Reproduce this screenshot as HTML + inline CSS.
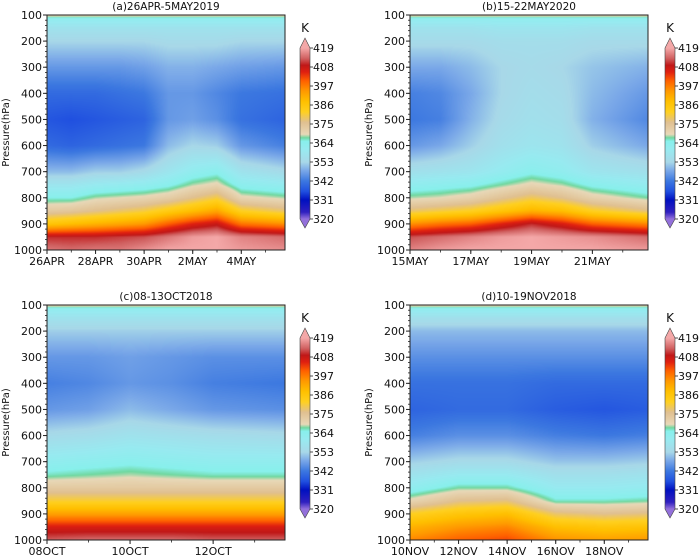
<!DOCTYPE html>
<html><head><meta charset="utf-8">
<style>
html,body{margin:0;padding:0;background:#fff;}
#wrap{position:relative;width:700px;height:557px;overflow:hidden;font-family:"DejaVu Sans","Liberation Sans",sans-serif;}
canvas{position:absolute;}
svg{position:absolute;left:0;top:0;font-family:"DejaVu Sans","Liberation Sans",sans-serif;}
</style></head>
<body>
<div id="wrap">
<canvas id="ca" width="238" height="235" style="left:47px;top:15px"></canvas>
<canvas id="cb" width="238" height="235" style="left:410px;top:15px"></canvas>
<canvas id="cc" width="238" height="235" style="left:47px;top:305px"></canvas>
<canvas id="cd" width="238" height="235" style="left:410px;top:305px"></canvas>
<svg id="svg" width="700" height="557"></svg>
</div>
<script>
// pressure levels (hPa)
const levels = [100,115,150,200,300,400,500,600,700,750,800,850,900,950,1000];
const daysA = [0,1,2,3,4,5,6,7,8,9.8];
const thetaA = [
[372,362,357,353,346,340,337,340,350,358,365,373,386,410,415],
[372,362,357,353,346,340,336,339,350,358,365,374,388,410,414],
[372,362,357,353,346,340,337,340,352,360,368,376,390,410,415],
[372,362,357,353,346,341,338,341,352,361,369,378,392,411,415],
[372,362,357,353,347,342,339,342,354,362,370,380,394,412,417],
[372,362,357,354,349,346,346,350,358,364,372,384,400,415,419],
[372,362,357,354,349,346,347,353,362,368,376,388,405,418,419],
[372,362,357,354,348,344,345,352,364,370,380,392,408,419,419],
[372,362,357,353,347,342,341,346,357,363,370,382,398,416,418],
[372,362,357,353,346,341,339,343,354,361,368,378,395,414,417]];
const daysB = [0,1,2,3,4,5,6,7.83];
const thetaB = [
[372,362,357,354,348,343,342,346,356,362,368,378,395,412,416],
[372,362,357,354,348,344,343,348,357,363,369,380,398,414,418],
[372,362,357,354,350,348,349,352,358,364,371,382,400,416,419],
[372,362,358,355,353,353,354,356,361,367,375,386,405,418,419],
[372,362,358,355,354,355,356,358,364,370,379,390,410,419,419],
[372,362,358,355,353,354,355,357,362,368,376,388,406,418,419],
[372,362,357,354,351,350,349,352,358,364,371,382,400,417,419],
[372,362,357,354,349,346,344,348,356,361,367,377,396,414,418]];
const daysC = [0,1,2,3,4,5.73];
const thetaC = [
[372,362,357,352,346,343,346,354,362,366,373,381,393,406,413],
[372,362,357,352,346,344,347,355,363,367,373,381,393,406,414],
[372,362,357,352,347,346,350,357,364,368,373,381,393,406,414],
[372,362,357,352,346,345,348,356,363,367,373,381,393,406,414],
[372,362,357,352,345,343,346,355,362,366,373,381,393,406,413],
[372,362,357,352,345,342,345,354,362,366,373,381,393,406,413]];
const daysD = [0,2,4,6,8,9.8];
const thetaD = [
[372,362,356,350,345,341,339,343,352,357,362,370,382,390,396],
[372,362,356,350,345,341,340,345,354,360,367,376,386,394,400],
[372,362,356,350,345,341,340,345,354,360,367,377,388,396,402],
[372,362,356,350,345,340,338,343,351,356,360,366,378,388,395],
[372,362,356,350,345,340,337,342,351,356,360,366,376,386,393],
[372,362,356,350,345,340,338,343,352,357,361,367,377,387,394]];
const cbTicks = [320,331,342,353,364,375,386,397,408,419];
const yTicks = [100,200,300,400,500,600,700,800,900,1000];
const xLabA = ["26APR","28APR","30APR","2MAY","4MAY"], xDayA=[0,2,4,6,8];
const xLabB = ["15MAY","17MAY","19MAY","21MAY"], xDayB=[0,2,4,6];
const xLabC = ["08OCT","10OCT","12OCT"], xDayC=[0,2,4];
const xLabD = ["10NOV","12NOV","14NOV","16NOV","18NOV"], xDayD=[0,2,4,6,8];

const stops=[[320,"#9370db"],[324,"#3020c0"],[331,"#0010c0"],[336,"#2050e0"],[342,"#3c78e0"],[348,"#7aa8e8"],[353,"#a8d8e8"],[360,"#98eaf0"],[365,"#88f0ec"],[367,"#70d8a0"],[369,"#e8d8b8"],[376,"#e0c090"],[382,"#ffd020"],[388,"#ffc000"],[394,"#ff9a00"],[400,"#ff6000"],[405,"#e02010"],[409,"#c01818"],[413,"#d06060"],[419,"#f4a8a8"]];
function hx(c){return [parseInt(c.slice(1,3),16),parseInt(c.slice(3,5),16),parseInt(c.slice(5,7),16)];}
const stopRGB=stops.map(s=>[s[0],hx(s[1])]);
function cmap(v){
  if(v<=stopRGB[0][0])return stopRGB[0][1];
  for(let i=1;i<stopRGB.length;i++){if(v<=stopRGB[i][0]){const a=stopRGB[i-1],b=stopRGB[i];const t=(v-a[0])/(b[0]-a[0]);return a[1].map((x,k)=>x+(b[1][k]-x)*t);}}
  return stopRGB[stopRGB.length-1][1];
}
function interp(xs,ys,x){if(x<=xs[0])return 0;for(let i=1;i<xs.length;i++){if(x<=xs[i])return i-1+(x-xs[i-1])/(xs[i]-xs[i-1]);}return xs.length-1;}
function field(id,days,theta,span){
  const cv=document.getElementById(id),ctx=cv.getContext('2d');const W=cv.width,H=cv.height;
  const img=ctx.createImageData(W,H);
  for(let y=0;y<H;y++){
    const p=100+900*(y+0.5)/H;const fi=interp(levels,null,p);const i0=Math.floor(fi),i1=Math.min(i0+1,levels.length-1),ti=fi-i0;
    for(let x=0;x<W;x++){
      const d=span*(x+0.5)/W;const fj=interp(days,null,d);const j0=Math.floor(fj),j1=Math.min(j0+1,days.length-1),tj=fj-j0;
      const v0=theta[j0][i0]*(1-ti)+theta[j0][i1]*ti, v1=theta[j1][i0]*(1-ti)+theta[j1][i1]*ti;
      const c=cmap(v0*(1-tj)+v1*tj);const k=(y*W+x)*4;
      img.data[k]=c[0];img.data[k+1]=c[1];img.data[k+2]=c[2];img.data[k+3]=255;
    }
  }
  ctx.putImageData(img,0,0);
}
field('ca',daysA,thetaA,9.8);field('cb',daysB,thetaB,7.83);field('cc',daysC,thetaC,5.73);field('cd',daysD,thetaD,9.8);

const svg=document.getElementById('svg');const NS="http://www.w3.org/2000/svg";
function el(t,a,txt){const e=document.createElementNS(NS,t);for(const k in a)e.setAttribute(k,a[k]);if(txt!==undefined)e.textContent=txt;svg.appendChild(e);return e;}
const defs=el('defs',{});
const g=document.createElementNS(NS,'linearGradient');g.setAttribute('id','cbg');g.setAttribute('x1','0');g.setAttribute('y1','1');g.setAttribute('x2','0');g.setAttribute('y2','0');
stops.forEach(s=>{const st=document.createElementNS(NS,'stop');st.setAttribute('offset',((s[0]-320)/99).toFixed(3));st.setAttribute('stop-color',s[1]);g.appendChild(st);});
defs.appendChild(g);

function panel(name,L,T,span,labs,ldays,title,cbx){
  const W=238,H=235;
  const sy=p=>T+(p-100)/900*H, sx=d=>L+d/span*W;
  let e=el('text',{x:L+W/2,y:T-5,'font-size':10.5,'text-anchor':'middle',fill:'#111'},title);
  
  e=el('rect',{x:L,y:T,width:W,height:H,fill:'none',stroke:'#222','stroke-width':1});
  
  for(let p=100;p<=1000;p+=20){el('line',{x1:L,x2:L-2,y1:sy(p),y2:sy(p),stroke:'#222','stroke-width':0.8});}
  yTicks.forEach(p=>{el('line',{x1:L,x2:L-4,y1:sy(p),y2:sy(p),stroke:'#222','stroke-width':1});
    e=el('text',{x:L-5,y:sy(p)+4,'font-size':11,'text-anchor':'end',fill:'#111'},String(p));
    });
  e=el('text',{x:0,y:0,'font-size':10,'text-anchor':'middle',fill:'#111',transform:`translate(${L-38},${T+H/2}) rotate(-90)`},'Pressure(hPa)');
  
  for(let d=0;d<=span;d+=1){el('line',{x1:sx(d),x2:sx(d),y1:T+H,y2:T+H+2.5,stroke:'#222','stroke-width':0.8});}
  labs.forEach((s,i)=>{const x=sx(ldays[i]);el('line',{x1:x,x2:x,y1:T+H,y2:T+H+4,stroke:'#222','stroke-width':1});
    e=el('text',{x:x,y:T+H+15,'font-size':11,'text-anchor':'middle',fill:'#111'},s);
    });
  const ct=T+33,cbot=T+204,cw=10;const cy=v=>cbot-(v-320)/99*(cbot-ct);
  e=el('rect',{x:cbx,y:ct,width:cw,height:cbot-ct,fill:'url(#cbg)'});
  
  el('polygon',{points:`${cbx},${ct} ${cbx+cw},${ct} ${cbx+cw/2},${ct-10}`,fill:'#f4a8a8'});
  el('polygon',{points:`${cbx},${cbot} ${cbx+cw},${cbot} ${cbx+cw/2},${cbot+9}`,fill:'#9370db'});
  el('path',{d:`M${cbx},${ct} L${cbx+cw/2},${ct-10} L${cbx+cw},${ct} L${cbx+cw},${cbot} L${cbx+cw/2},${cbot+9} L${cbx},${cbot} Z`,fill:'none',stroke:'#444','stroke-width':0.6});
  cbTicks.forEach(v=>{el('line',{x1:cbx+cw,x2:cbx+cw+3,y1:cy(v),y2:cy(v),stroke:'#222','stroke-width':0.8});
    e=el('text',{x:cbx+cw+3,y:cy(v)+4,'font-size':11,fill:'#111'},String(v));
    });
  e=el('text',{x:cbx+cw/2,y:ct-16,'font-size':12,'text-anchor':'middle',fill:'#111'},'K');
  
}
panel('panel-a',47,15,9.8,xLabA,xDayA,'(a)26APR-5MAY2019',300);
panel('panel-b',410,15,7.83,xLabB,xDayB,'(b)15-22MAY2020',665);
panel('panel-c',47,305,5.73,xLabC,xDayC,'(c)08-13OCT2018',300);
panel('panel-d',410,305,9.8,xLabD,xDayD,'(d)10-19NOV2018',665);
</script>
</body></html>
